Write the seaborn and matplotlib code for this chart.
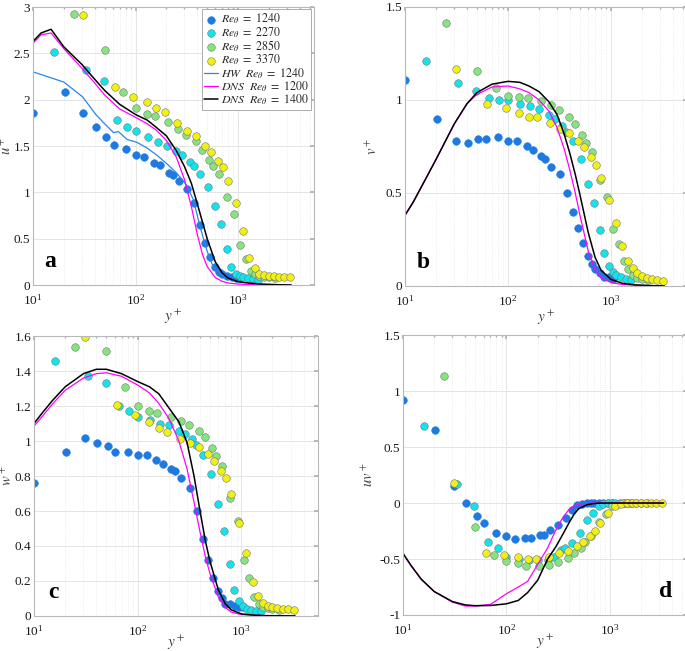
import matplotlib
matplotlib.use("Agg")
import matplotlib.pyplot as plt
import seaborn as sns
from matplotlib.ticker import LogLocator, NullFormatter, FuncFormatter

yp_1240 = [10, 20.5, 31, 41, 51.5, 61, 80, 100, 122, 152, 174, 210, 230, 263, 318, 375, 427, 480, 532,
           597, 650, 700, 775, 864, 950, 1040]
u_1240 = [1.86, 2.08, 1.86, 1.71, 1.60, 1.51, 1.47, 1.40, 1.38, 1.32, 1.29, 1.21, 1.19, 1.12, 1.04, 0.88,
          0.65, 0.45, 0.30, 0.19, 0.14, 0.12, 0.10, 0.09, 0.08, 0.08]
v_1240 = [1.11, 0.90, 0.78, 0.77, 0.79, 0.79, 0.80, 0.78, 0.78, 0.75, 0.73, 0.70, 0.68, 0.64, 0.60, 0.50,
          0.40, 0.31, 0.23, 0.16, 0.12, 0.09, 0.07, 0.05, 0.05, 0.04]
w_1240 = [0.76, 0.94, 1.02, 0.99, 0.97, 0.94, 0.94, 0.92, 0.92, 0.89, 0.87, 0.84, 0.83, 0.79, 0.73, 0.60,
          0.44, 0.32, 0.215, 0.14, 0.10, 0.07, 0.067, 0.057, 0.053, 0.05]
uv_1240 = [0.92, 0.65, 0.155, 0.0, -0.113, -0.18, -0.27, -0.295, -0.32, -0.315, -0.31, -0.29, -0.285, -0.24,
           -0.20, -0.13, -0.06, -0.02, -0.01, 0.0, 0.0, 0.0, 0.0, 0.0, 0.0, 0.0]

yp_2270 = [16, 33, 49, 66, 82, 100, 132, 165, 201, 250, 287, 338, 369, 426, 510, 597, 688, 775, 860, 948,
           1038, 1125, 1250, 1400, 1560]
u_2270 = [2.51, 2.32, 2.20, 1.78, 1.71, 1.66, 1.60, 1.54, 1.50, 1.45, 1.40, 1.325, 1.285, 1.195, 1.055,
          0.85, 0.66, 0.385, 0.19, 0.12, 0.094, 0.083, 0.076, 0.06, 0.054]
v_2270 = [1.21, 1.09, 1.05, 1.01, 1.0, 1.0, 0.98, 0.97, 0.95, 0.92, 0.90, 0.86, 0.83, 0.78, 0.68, 0.55,
          0.445, 0.30, 0.18, 0.11, 0.077, 0.06, 0.05, 0.035, 0.03]
w_2270 = [1.46, 1.37, 1.33, 1.20, 1.17, 1.135, 1.12, 1.10, 1.09, 1.06, 1.04, 1.01, 0.977, 0.92, 0.81, 0.64,
          0.486, 0.295, 0.149, 0.086, 0.057, 0.042, 0.034, 0.03, 0.029]
uv_2270 = [0.69, 0.17, -0.03, -0.35, -0.40, -0.48, -0.50, -0.51, -0.51, -0.51, -0.485, -0.42, -0.40, -0.36,
           -0.265, -0.15, -0.086, -0.027, -0.01, 0, 0, 0, 0, 0, 0]

yp_2850 = [25, 50, 76, 100, 128, 155, 208, 260, 313, 390, 445, 525, 575, 655, 785, 920, 1055, 1200, 1330,
           1470, 1620, 1800, 2000, 2300]
u_2850 = [2.93, 2.54, 2.085, 1.91, 1.85, 1.82, 1.76, 1.68, 1.62, 1.55, 1.46, 1.35, 1.28, 1.20, 0.95, 0.77,
          0.43, 0.28, 0.15, 0.12, 0.10, 0.09, 0.085, 0.08]
v_2850 = [1.415, 1.156, 1.062, 1.024, 1.016, 1.008, 0.994, 0.971, 0.946, 0.91, 0.871, 0.81, 0.77, 0.72,
          0.57, 0.476, 0.306, 0.226, 0.134, 0.089, 0.06, 0.045, 0.035, 0.03]
w_2850 = [1.535, 1.516, 1.31, 1.20, 1.173, 1.158, 1.135, 1.116, 1.09, 1.059, 1.025, 0.958, 0.916, 0.857,
          0.676, 0.545, 0.32, 0.215, 0.11, 0.069, 0.053, 0.045, 0.04, 0.037]
uv_2850 = [1.134, -0.21, -0.46, -0.515, -0.54, -0.56, -0.565, -0.55, -0.53, -0.49, -0.45, -0.40, -0.35,
           -0.295, -0.167, -0.098, -0.027, -0.01, 0, 0, 0, 0, 0, 0]

yp_3370 = [31, 63, 95, 128, 160, 192, 255, 320, 390, 480, 550, 640, 710, 800, 960, 1120, 1290, 1450, 1620,
           1800, 1990, 2220, 2500, 2800, 3200]
u_3370 = [2.91, 2.135, 2.03, 1.977, 1.905, 1.87, 1.75, 1.66, 1.61, 1.505, 1.44, 1.34, 1.27, 1.12, 0.88,
          0.587, 0.288, 0.18, 0.12, 0.108, 0.097, 0.097, 0.09, 0.09, 0.09]
v_3370 = [1.165, 0.976, 0.957, 0.928, 0.907, 0.907, 0.876, 0.843, 0.82, 0.78, 0.745, 0.695, 0.652, 0.58,
          0.46, 0.34, 0.214, 0.137, 0.096, 0.071, 0.053, 0.045, 0.038, 0.03, 0.025]
w_3370 = [1.596, 1.208, 1.149, 1.107, 1.074, 1.051, 1.013, 0.99, 0.966, 0.924, 0.888, 0.829, 0.79, 0.695,
          0.53, 0.358, 0.196, 0.114, 0.072, 0.057, 0.05, 0.044, 0.038, 0.038, 0.036]
uv_3370 = [0.176, -0.443, -0.464, -0.485, -0.50, -0.503, -0.48, -0.45, -0.425, -0.384, -0.345, -0.295,
           -0.247, -0.18, -0.086, -0.027, -0.01, 0, 0, 0, 0, 0, 0, 0, 0]

# hot-wire line (panel a only)
yp_hw = [10, 20, 30.5, 41, 51, 61, 68, 83, 103, 129, 162, 206, 251, 315, 367, 424, 494, 570, 665, 826, 950]
u_hw = [2.30, 2.19, 2.03, 1.84, 1.73, 1.645, 1.655, 1.57, 1.54, 1.48, 1.40, 1.30, 1.21, 1.08, 0.92, 0.64,
        0.38, 0.20, 0.126, 0.07, 0.045]

# DNS profiles
yp_dns = [10, 12, 15, 20, 30, 40, 50, 70, 100, 130, 160, 200, 250, 300, 350, 400, 450, 500, 600, 700, 800,
          1000, 1300, 1700, 2500, 3300]
u_dns1200 = [2.61, 2.70, 2.72, 2.55, 2.34, 2.18, 2.05, 1.90, 1.81, 1.74, 1.67, 1.56, 1.38, 1.14, 0.85, 0.55,
             0.33, 0.20, 0.08, 0.04, 0.022, 0.01, 0.005, 0.003, 0.001, 0.0]
u_dns1400 = [2.63, 2.72, 2.76, 2.57, 2.38, 2.22, 2.10, 1.95, 1.84, 1.78, 1.70, 1.61, 1.45, 1.28, 1.10, 0.88,
             0.68, 0.50, 0.25, 0.13, 0.075, 0.035, 0.02, 0.01, 0.003, 0.0]
v_dns1200 = [0.38, 0.45, 0.55, 0.68, 0.87, 0.98, 1.03, 1.07, 1.075, 1.06, 1.04, 1.00, 0.94, 0.85, 0.74, 0.62,
             0.50, 0.38, 0.19, 0.09, 0.045, 0.018, 0.008, 0.004, 0.001, 0.0]
v_dns1400 = [0.38, 0.45, 0.55, 0.68, 0.87, 0.98, 1.04, 1.085, 1.10, 1.095, 1.075, 1.045, 0.99, 0.92, 0.82,
             0.71, 0.60, 0.49, 0.29, 0.155, 0.085, 0.035, 0.014, 0.006, 0.002, 0.0]
w_dns1200 = [1.085, 1.14, 1.21, 1.29, 1.36, 1.385, 1.39, 1.37, 1.32, 1.275, 1.215, 1.13, 1.0, 0.84, 0.65,
             0.48, 0.34, 0.24, 0.11, 0.05, 0.022, 0.008, 0.004, 0.002, 0.001, 0.0]
w_dns1400 = [1.10, 1.16, 1.23, 1.31, 1.385, 1.41, 1.41, 1.385, 1.34, 1.31, 1.27, 1.19, 1.11, 0.99, 0.80,
             0.60, 0.43, 0.31, 0.15, 0.07, 0.035, 0.012, 0.005, 0.002, 0.001, 0.0]
uv_dns1200 = [-0.45, -0.56, -0.68, -0.79, -0.885, -0.92, -0.92, -0.905, -0.81, -0.75, -0.70, -0.55, -0.40,
              -0.24, -0.13, -0.06, -0.025, -0.01, -0.003, 0, 0, 0, 0, 0, 0, 0]
uv_dns1400 = [-0.45, -0.56, -0.68, -0.79, -0.88, -0.91, -0.917, -0.915, -0.90, -0.87, -0.80, -0.69, -0.50,
              -0.39, -0.28, -0.18, -0.10, -0.05, -0.015, -0.004, -0.001, 0, 0, 0, 0, 0]

# ---- style ----
sns.set_theme(style="white")
plt.rcParams['font.family'] = ['Liberation Serif', 'DejaVu Serif']
plt.rcParams['mathtext.fontset'] = 'stix'

C_1240 = '#1f7ae0'
C_2270 = '#12e4ee'
C_2850 = '#86e47e'
C_3370 = '#f0f012'
EDGE = '#777777'

fig = plt.figure(figsize=(6.85, 6.51), dpi=100)
ax_a = fig.add_axes([0.0482, 0.5622, 0.410, 0.427])
ax_b = fig.add_axes([0.5912, 0.5607, 0.412, 0.4286])
ax_c = fig.add_axes([0.0496, 0.0538, 0.4146, 0.430])
ax_d = fig.add_axes([0.5883, 0.0553, 0.414, 0.430])


def draw(ax, vals, dns1200, dns1400, labels=False):
    series = [(yp_1240, vals[0], C_1240, C_1240, r'$Re_\theta\ =\ 1240$'),
              (yp_2270, vals[1], C_2270, EDGE, r'$Re_\theta\ =\ 2270$'),
              (yp_2850, vals[2], C_2850, EDGE, r'$Re_\theta\ =\ 2850$'),
              (yp_3370, vals[3], C_3370, EDGE, r'$Re_\theta\ =\ 3370$')]
    for x, y, fc, ec, lab in series:
        sns.scatterplot(x=x, y=y, ax=ax, color=fc, edgecolor=ec, linewidth=0.4, s=30,
                        label=lab if labels else None)
    if labels:
        sns.lineplot(x=yp_hw, y=u_hw, ax=ax, color='#2a86ea', lw=0.9, estimator=None, sort=False,
                     label=r'$HW\ \ Re_\theta\ =\ 1240$')
    sns.lineplot(x=yp_dns, y=dns1200, ax=ax, color='#ff00ff', lw=0.9, estimator=None, sort=False,
                 label=r'$DNS\ \ Re_\theta\ =\ 1200$' if labels else None)
    sns.lineplot(x=yp_dns, y=dns1400, ax=ax, color='black', lw=1.1, estimator=None, sort=False,
                 label=r'$DNS\ \ Re_\theta\ =\ 1400$' if labels else None)


def style(ax, ylim, yticks, ylabel, letter, lx, ly, ylx, xly):
    ax.set_xscale('log')
    ax.set_xlim(10, 10 ** 3.74)
    ax.set_ylim(*ylim)
    ax.set_yticks(yticks)
    ax.yaxis.set_major_formatter(FuncFormatter(lambda v, p: '%g' % v))
    ax.xaxis.set_major_locator(LogLocator(base=10, numticks=10))
    ax.xaxis.set_minor_locator(LogLocator(base=10, subs=range(2, 10), numticks=20))
    ax.xaxis.set_minor_formatter(NullFormatter())
    ax.grid(True, which='major', color='#e4e4e4', lw=0.7)
    ax.grid(True, which='minor', axis='x', color='#e8e8e8', lw=0.6, ls=':')
    ax.set_axisbelow(True)
    ax.tick_params(which='both', direction='in', top=True, right=True, color='#b0b0b0',
                   labelsize=9.5, labelcolor='#1a1a1a')
    ax.tick_params(axis='x', which='major', pad=6)
    ax.tick_params(axis='y', which='major', pad=2)
    ax.tick_params(which='major', length=3)
    ax.tick_params(which='minor', length=1.5)
    for sp in ax.spines.values():
        sp.set_color('#b8b8b8')
        sp.set_linewidth(0.8)
    ax.set_ylabel(ylabel, fontsize=10.5, color='#404040')
    ax.yaxis.set_label_coords(ylx, 0.5)
    ax.set_xlabel(r'$y^+$', fontsize=11, color='#404040')
    ax.xaxis.set_label_coords(0.5, xly)
    ax.text(lx, ly, letter, transform=ax.transAxes, fontsize=17, fontweight='bold',
            ha='center', va='center', color='black')


draw(ax_a, [u_1240, u_2270, u_2850, u_3370], u_dns1200, u_dns1400, labels=True)
draw(ax_b, [v_1240, v_2270, v_2850, v_3370], v_dns1200, v_dns1400)
draw(ax_c, [w_1240, w_2270, w_2850, w_3370], w_dns1200, w_dns1400)
draw(ax_d, [uv_1240, uv_2270, uv_2850, uv_3370], uv_dns1200, uv_dns1400)

style(ax_a, (0, 3), [0, 0.5, 1, 1.5, 2, 2.5, 3], r'$u^+$', 'a', 0.062, 0.085, -0.068, -0.08)
style(ax_b, (0, 1.5), [0, 0.5, 1, 1.5], r'$v^+$', 'b', 0.066, 0.085, -0.09, -0.08)
style(ax_c, (0, 1.6), [0, 0.2, 0.4, 0.6, 0.8, 1, 1.2, 1.4, 1.6], r'$w^+$', 'c', 0.068, 0.085,
      -0.068, -0.062)
style(ax_d, (-1, 1.5), [-1, -0.5, 0, 0.5, 1, 1.5], r'$uv^+$', 'd', 0.925, 0.085, -0.095, -0.062)

for ax in (ax_b, ax_c, ax_d):
    leg = ax.get_legend()
    if leg is not None:
        leg.remove()

ax_a.legend(loc='upper right', fontsize=8.6, frameon=True, fancybox=False, edgecolor='#a0a0a0',
            framealpha=1, borderpad=0.2, labelspacing=-0.1, handlelength=1.1, handletextpad=0.3,
            borderaxespad=0.2, scatterpoints=1)
ax_a.get_legend().get_frame().set_linewidth(0.6)

fig.savefig('out.png', dpi=100)
